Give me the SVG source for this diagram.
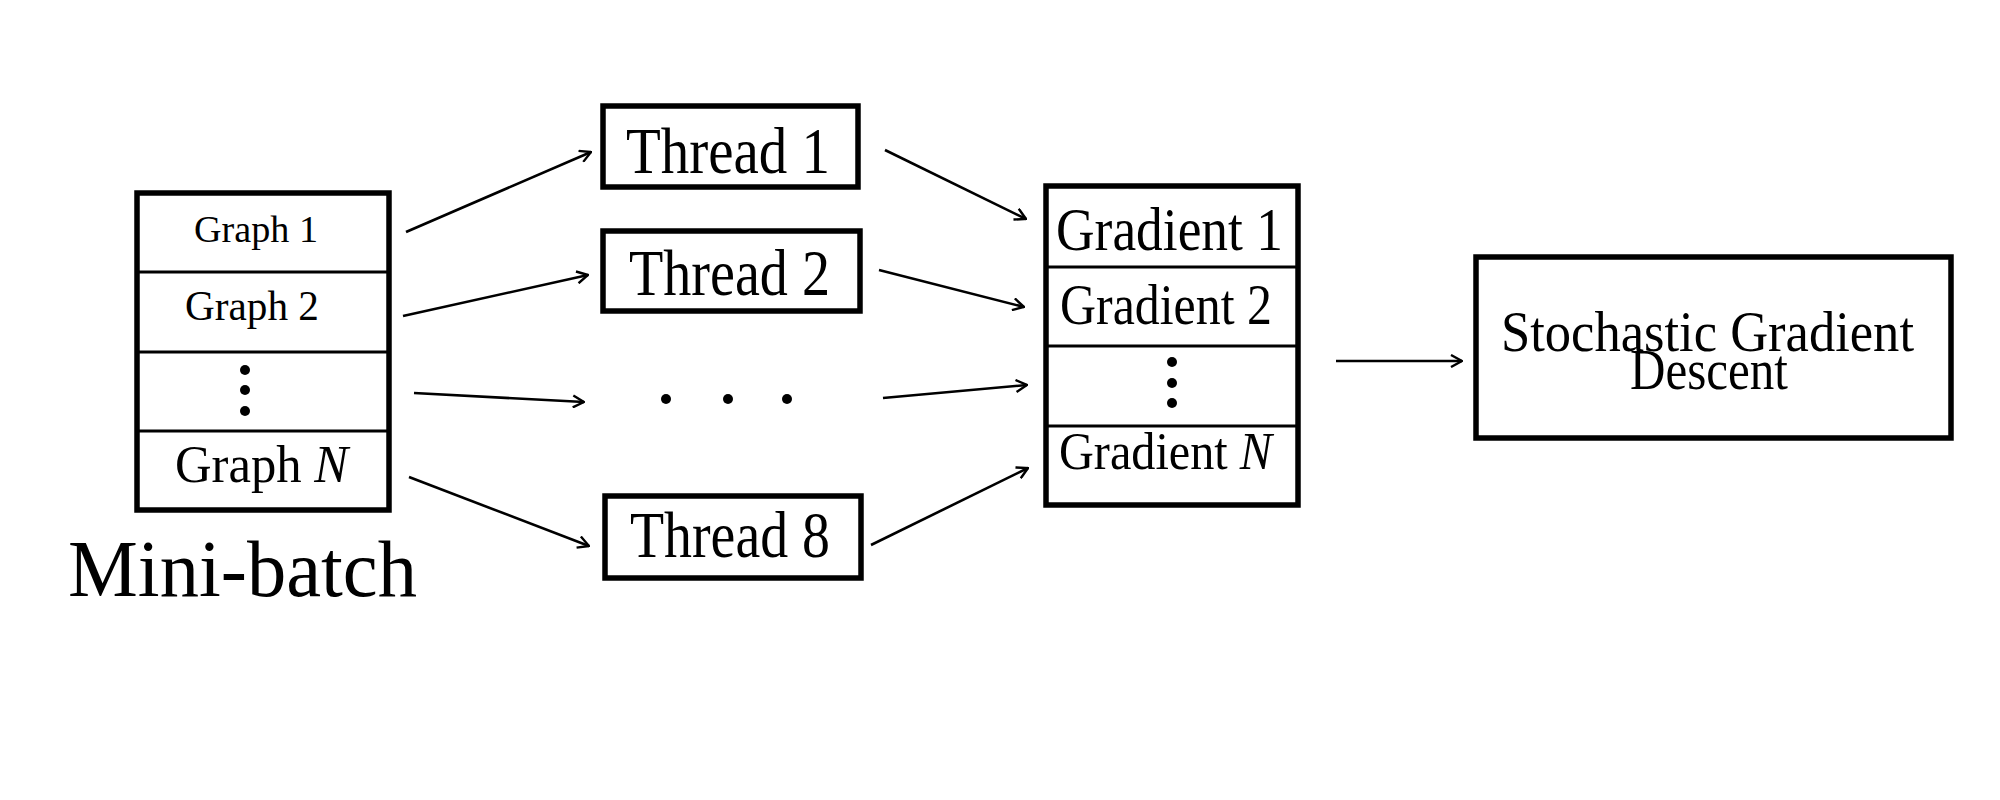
<svg xmlns="http://www.w3.org/2000/svg" width="2000" height="800" viewBox="0 0 2000 800">
<style>
.box{fill:#fff;stroke:#000;stroke-width:5.5}
.div{stroke:#000;stroke-width:2.8}
.t{font-family:"Liberation Serif","Times New Roman",serif;fill:#000}
.c{stroke:#000;stroke-width:2.6;fill:none}
.dot{fill:#000}
</style>
<defs>
<marker id="arr" viewBox="0 0 14 14" refX="13" refY="7" markerWidth="14" markerHeight="14" markerUnits="userSpaceOnUse" orient="auto">
<path d="M2,1 L13,7 L2,13" fill="none" stroke="#000" stroke-width="2.4"/>
</marker>
</defs>
<rect width="2000" height="800" fill="#fff"/>

<g id="minibatch">
<rect class="box" x="137" y="193" width="252" height="317"/>
<line class="div" x1="137" y1="272" x2="389" y2="272"/>
<line class="div" x1="137" y1="352" x2="389" y2="352"/>
<line class="div" x1="137" y1="431" x2="389" y2="431"/>
<text class="t" x="194" y="242" font-size="38" textLength="124" lengthAdjust="spacingAndGlyphs">Graph 1</text>
<text class="t" x="185" y="320" font-size="42" textLength="134" lengthAdjust="spacingAndGlyphs">Graph 2</text>
<circle class="dot" cx="245" cy="370" r="5"/>
<circle class="dot" cx="245" cy="390" r="5"/>
<circle class="dot" cx="245" cy="411" r="5"/>
<text class="t" x="175" y="482" font-size="52" textLength="173" lengthAdjust="spacingAndGlyphs">Graph <tspan font-style="italic">N</tspan></text>
<text class="t" x="68" y="596" font-size="80" textLength="349" lengthAdjust="spacingAndGlyphs">Mini-batch</text>
</g>

<g id="thread1">
<rect class="box" x="603" y="106" width="255" height="81"/>
<text class="t" x="626" y="173" font-size="66" textLength="204" lengthAdjust="spacingAndGlyphs">Thread 1</text>
</g>
<g id="thread2">
<rect class="box" x="603" y="231" width="257" height="80"/>
<text class="t" x="629" y="295" font-size="66" textLength="201" lengthAdjust="spacingAndGlyphs">Thread 2</text>
</g>
<g id="threaddots">
<circle class="dot" cx="666" cy="399" r="5"/>
<circle class="dot" cx="728" cy="399" r="5"/>
<circle class="dot" cx="787" cy="399" r="5"/>
</g>
<g id="thread8">
<rect class="box" x="605" y="496" width="256" height="82"/>
<text class="t" x="630" y="557" font-size="66" textLength="200" lengthAdjust="spacingAndGlyphs">Thread 8</text>
</g>

<g id="gradients">
<rect class="box" x="1046" y="186" width="252" height="319"/>
<line class="div" x1="1046" y1="267" x2="1298" y2="267"/>
<line class="div" x1="1046" y1="346" x2="1298" y2="346"/>
<line class="div" x1="1046" y1="426" x2="1298" y2="426"/>
<text class="t" x="1056" y="250" font-size="62" textLength="227" lengthAdjust="spacingAndGlyphs">Gradient 1</text>
<text class="t" x="1060" y="324" font-size="56" textLength="212" lengthAdjust="spacingAndGlyphs">Gradient 2</text>
<circle class="dot" cx="1172" cy="362" r="5"/>
<circle class="dot" cx="1172" cy="383" r="5"/>
<circle class="dot" cx="1172" cy="403" r="5"/>
<text class="t" x="1059" y="469" font-size="52" textLength="213" lengthAdjust="spacingAndGlyphs">Gradient <tspan font-style="italic">N</tspan></text>
</g>

<g id="sgd">
<rect class="box" x="1476" y="257" width="475" height="181"/>
<text class="t" x="1501" y="351" font-size="57" textLength="413" lengthAdjust="spacingAndGlyphs">Stochastic Gradient</text>
<text class="t" x="1630" y="389" font-size="57" textLength="158" lengthAdjust="spacingAndGlyphs">Descent</text>
</g>

<g id="connectors">
<line class="c" x1="406" y1="232" x2="591" y2="152" marker-end="url(#arr)"/>
<line class="c" x1="403" y1="316" x2="588" y2="275" marker-end="url(#arr)"/>
<line class="c" x1="414" y1="393" x2="584" y2="402" marker-end="url(#arr)"/>
<line class="c" x1="409" y1="477" x2="589" y2="546" marker-end="url(#arr)"/>
<line class="c" x1="885" y1="150" x2="1026" y2="219" marker-end="url(#arr)"/>
<line class="c" x1="879" y1="270" x2="1024" y2="307" marker-end="url(#arr)"/>
<line class="c" x1="883" y1="398" x2="1027" y2="385" marker-end="url(#arr)"/>
<line class="c" x1="871" y1="545" x2="1028" y2="468" marker-end="url(#arr)"/>
<line class="c" x1="1336" y1="361" x2="1462" y2="361" marker-end="url(#arr)"/>
</g>
</svg>
